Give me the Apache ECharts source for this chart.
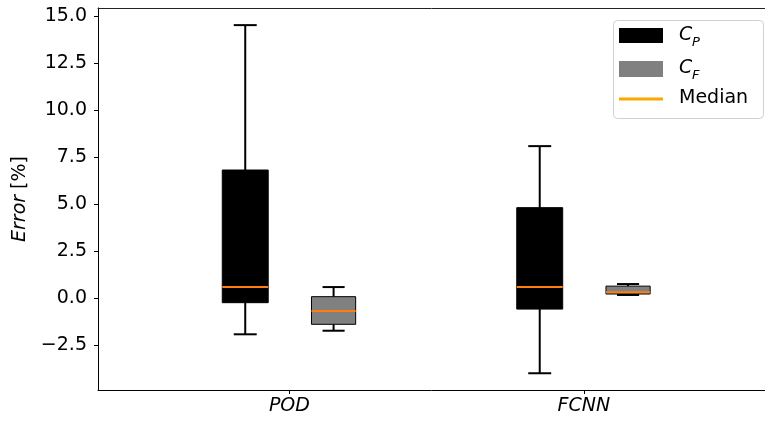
<!DOCTYPE html>
<html>
<head>
<meta charset="utf-8">
<script src="https://cdn.jsdelivr.net/npm/echarts@6/dist/echarts.min.js"></script>
<style>html,body{margin:0;padding:0;background:#fff;}#c{width:765px;height:422px;}</style>
</head>
<body>
<div id="c"></div>
<script>
// ---- data ----
const categories = ['POD', 'FCNN'];
const positions = [1, 2];
// [lowerWhisker, Q1, median, Q3, upperWhisker]
const cpStats = [
  [-1.91, -0.23, 0.60, 6.82, 14.52],
  [-3.98, -0.57, 0.60, 4.82, 8.09]
];
const cfStats = [
  [-1.72, -1.38, -0.67, 0.09, 0.60],
  [0.18, 0.23, 0.33, 0.65, 0.76]
];
const yTicks = [-2.5, 0, 2.5, 5, 7.5, 10, 12.5, 15];
const legendNames = ['C_P', 'C_F', 'Median'];

const FONT = 'DejaVu Sans';
const FS = 19;
const MEDIAN_COLOR = '#ff7f0e';

function makeRender(fill, boxW) {
  return function (params, api) {
    const x = api.value(0);
    const lo = api.coord([x, api.value(1)]);
    const q1 = api.coord([x, api.value(2)]);
    const md = api.coord([x, api.value(3)]);
    const q3 = api.coord([x, api.value(4)]);
    const hi = api.coord([x, api.value(5)]);
    const w = api.size([boxW, 0])[0];
    const cx = lo[0];
    const capW = w / 2;
    const ls = { stroke: '#000', lineWidth: 2 };
    return {
      type: 'group',
      children: [
        { type: 'line', shape: { x1: cx, y1: lo[1], x2: cx, y2: q1[1] }, style: ls },
        { type: 'line', shape: { x1: cx, y1: q3[1], x2: cx, y2: hi[1] }, style: ls },
        { type: 'line', shape: { x1: cx - capW / 2, y1: lo[1], x2: cx + capW / 2, y2: lo[1] }, style: ls },
        { type: 'line', shape: { x1: cx - capW / 2, y1: hi[1], x2: cx + capW / 2, y2: hi[1] }, style: ls },
        { type: 'rect', shape: { x: cx - w / 2, y: q3[1], width: w, height: q1[1] - q3[1] },
          style: { fill: fill, stroke: '#000', lineWidth: 1 } },
        { type: 'line', shape: { x1: cx - w / 2, y1: md[1], x2: cx + w / 2, y2: md[1] },
          style: { stroke: MEDIAN_COLOR, lineWidth: 2 } }
      ]
    };
  };
}

const cpData = positions.map((p, i) => [p - 0.15].concat(cpStats[i]));
const cfData = positions.map((p, i) => [p + 0.15].concat(cfStats[i]));

const chart = echarts.init(document.getElementById('c'), null, { renderer: 'canvas' });

const legendX = 613, legendY = 20;
const option = {
  animation: false,
  backgroundColor: '#fff',
  grid: { left: 98, top: 8, right: 0, bottom: 32, show: false },
  xAxis: [{
    type: 'value', min: 0.35, max: 2.615,
    axisLine: { show: true, onZero: false, lineStyle: { color: '#000', width: 1 } },
    axisTick: { show: true, customValues: positions, length: 4, lineStyle: { color: '#000' } },
    axisLabel: {
      customValues: positions, margin: 7,
      formatter: v => categories[positions.indexOf(v)] || '',
      fontFamily: FONT, fontSize: FS, fontStyle: 'italic', color: '#000'
    },
    splitLine: { show: false }
  }, {
    type: 'value', position: 'top', min: 0.35, max: 2.615,
    axisLine: { show: true, onZero: false, lineStyle: { color: '#222', width: 1 } },
    axisTick: { show: false }, axisLabel: { show: false }, splitLine: { show: false }
  }],
  yAxis: {
    type: 'value', min: -4.87, max: 15.43,
    name: '{i|Error} [%]',
    nameLocation: 'middle', nameRotate: 90, nameGap: 68,
    nameTextStyle: { fontFamily: FONT, fontSize: FS, color: '#000',
      rich: { i: { fontFamily: FONT, fontSize: FS, fontStyle: 'italic', color: '#000' } } },
    axisLine: { show: true, onZero: false, lineStyle: { color: '#000', width: 1 } },
    axisTick: { show: true, customValues: yTicks, length: 4, lineStyle: { color: '#000' } },
    axisLabel: {
      customValues: yTicks, margin: 11,
      formatter: v => (v < 0 ? '\u2212' + Math.abs(v).toFixed(1) : v.toFixed(1)),
      fontFamily: FONT, fontSize: FS, color: '#000'
    },
    splitLine: { show: false }
  },
  series: [
    { name: legendNames[0], type: 'custom', renderItem: makeRender('#000', 0.156), data: cpData,
      xAxisIndex: 0, encode: { x: 0, y: [1, 2, 3, 4, 5] } },
    { name: legendNames[1], type: 'custom', renderItem: makeRender('#808080', 0.15), data: cfData,
      xAxisIndex: 0, encode: { x: 0, y: [1, 2, 3, 4, 5] } }
  ],
  graphic: [
    { type: 'rect', left: legendX, top: legendY, z: 100,
      shape: { width: 150, height: 98, r: 4 },
      style: { fill: 'rgba(255,255,255,0.8)', stroke: '#d0d0d0', lineWidth: 1 } },
    { type: 'rect', left: 619, top: 28, z: 101, shape: { width: 44, height: 15 }, style: { fill: '#000' } },
    { type: 'rect', left: 619, top: 61, z: 101, shape: { width: 44, height: 16 }, style: { fill: '#808080' } },
    { type: 'rect', left: 619, top: 97.5, z: 101, shape: { width: 44, height: 3 }, style: { fill: '#ffa500' } },
    { type: 'text', left: 679, top: 26, z: 101, style: { text: 'C', font: 'italic ' + FS + 'px ' + FONT, fill: '#000' } },
    { type: 'text', left: 692, top: 36, z: 101, style: { text: 'P', font: 'italic 13px ' + FONT, fill: '#000' } },
    { type: 'text', left: 679, top: 59, z: 101, style: { text: 'C', font: 'italic ' + FS + 'px ' + FONT, fill: '#000' } },
    { type: 'text', left: 692, top: 69, z: 101, style: { text: 'F', font: 'italic 13px ' + FONT, fill: '#000' } },
    { type: 'text', left: 679, top: 89, z: 101, style: { text: 'Median', font: FS + 'px ' + FONT, fill: '#000' } }
  ]
};
chart.setOption(option);
</script>
</body>
</html>
